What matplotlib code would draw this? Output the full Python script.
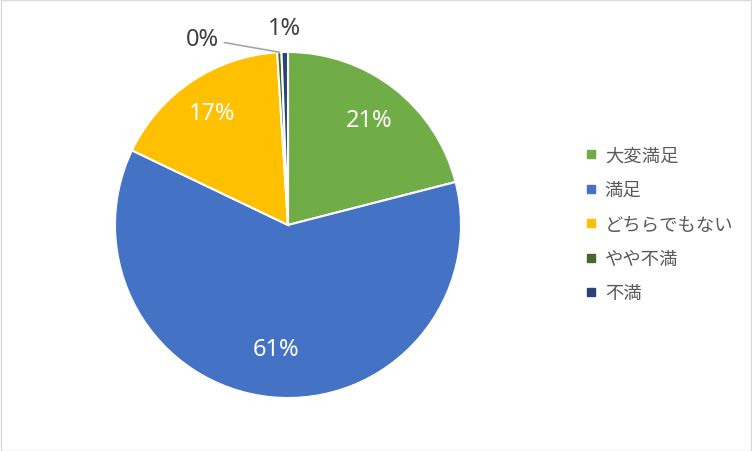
import numpy as np
import matplotlib
matplotlib.use("Agg")
import matplotlib.pyplot as plt
from matplotlib.patches import Rectangle
from matplotlib.lines import Line2D

plt.rcParams['font.family'] = ['Noto Sans CJK JP', 'DejaVu Sans']

# data
categories = ['大変満足', '満足', 'どちらでもない', 'やや不満', '不満']
shares = [21.0, 61.1, 16.9, 0.4, 0.6]
colors = ['#70AD47', '#4472C4', '#FFC000', '#43682B', '#264478']

W, H = 752, 452
fig = plt.figure(figsize=(W / 100, H / 100), dpi=100)

# pie placement (pixels)
cx, cy, r = 288, 226, 173
ax = fig.add_axes([(cx - r) / W, (H - cy - r) / H, 2 * r / W, 2 * r / H])

wedges, _ = ax.pie(shares, colors=colors, startangle=90, counterclock=False,
                   wedgeprops=dict(edgecolor='white', linewidth=1.5))
ax.set_xlim(-1, 1)
ax.set_ylim(-1, 1)
ax.set_aspect('equal')
ax.axis('off')

pct_font = dict(fontsize=17, family=['Noto Sans', 'DejaVu Sans'])

# percentage labels inside the large slices
label_dist = [0.77, 0.72, 0.78]
for w, s, d in zip(wedges[:3], shares[:3], label_dist):
    mid = np.deg2rad((w.theta1 + w.theta2) / 2)
    ax.text(d * np.cos(mid), d * np.sin(mid), f"{round(s):.0f}%",
            ha='center', va='center', color='white', **pct_font)

# small slices: outside labels
w0 = wedges[3]
m0 = np.deg2rad((w0.theta1 + w0.theta2) / 2)
ax.annotate(f"{round(shares[3]):.0f}%", xy=(np.cos(m0), np.sin(m0)), xytext=(-0.40, 1.075),
            ha='right', va='center', color='#404040',
            arrowprops=dict(arrowstyle='-', color='#A6A6A6', lw=1.2,
                            shrinkA=2, shrinkB=0,
                            connectionstyle='angle,angleA=0,angleB=170,rad=0'),
            **pct_font)
ax.text(-0.02, 1.14, f"{round(shares[4]):.0f}%", ha='center', va='center',
        color='#404040', **pct_font)

# legend
handles = [Line2D([], [], marker='s', linestyle='none', markersize=6,
                  markerfacecolor=c, markeredgecolor=c) for c in colors]
fig.legend(handles, categories, loc='upper left', bbox_to_anchor=(569 / W, 1 - 131 / H),
           frameon=False, fontsize=13.2, labelspacing=0.9, handlelength=0.6,
           handletextpad=0.45, labelcolor='#595959')

# outer border
fig.patches.append(Rectangle((0.5 / W, 0.5 / H), 1 - 1.5 / W, 1 - 1.5 / H, transform=fig.transFigure,
                             fill=False, edgecolor='#D9D9D9', linewidth=1))

fig.savefig('out.png', dpi=100)
